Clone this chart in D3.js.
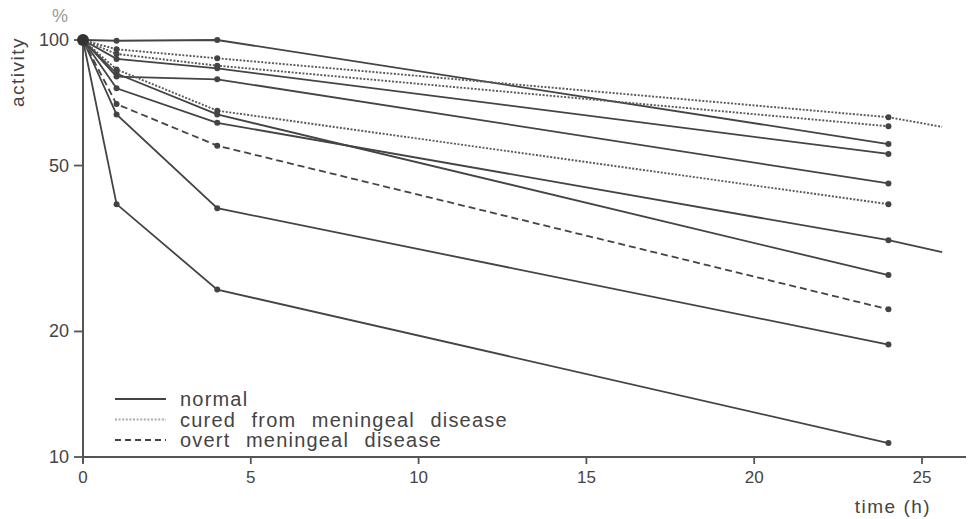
<!DOCTYPE html>
<html>
<head>
  <script src="https://d3js.org/d3.v7.min.js"></script>
  <style>
    body { margin: 0; background: #fff; }
    text { font-family: "Liberation Sans", Arial, sans-serif; fill: #444; }
  </style>
</head>
<body>
  <svg id="chart" width="969" height="519"></svg>
  <script>
    // sampling times (h) and the activity (%)
    const hours = [0, 1, 4, 24];
    const normal1 = [100, 99.6, 100, 56.3];
    const normal2 = [100, 90.1, 85.5, 53.3];
    const normal3 = [100, 81.7, 80.5, 45.3];
    const normal4 = [100, 76.6, 63.3, 33.1];
    const normal5 = [100, 83.1, 66.3, 27.3];
    const normal6 = [100, 66.3, 39.5, 18.6];
    const normal7 = [100, 40.4, 25.2, 10.8];
    const cured1 = [100, 95.0, 90.4, 65.3];
    const cured2 = [100, 92.6, 86.8, 62.1];
    const cured3 = [100, 85.0, 67.7, 40.4];
    const overt1 = [100, 70.2, 55.8, 22.6];

    // lines running on past the last sample
    const extHours = [24, 25.6];
    const normal4Ext = [33.1, 31.0];
    const cured1Ext = [65.3, 61.9];

    const xTicks = [0, 5, 10, 15, 20, 25];
    const yTicks = [10, 20, 50, 100];
    const legendLabels = ['normal', 'cured  from  meningeal  disease', 'overt  meningeal  disease'];

    const styles = {
      normal: { stroke: '#444', dash: null, width: 1.8 },
      cured: { stroke: '#5a5a5a', dash: '2 1.6', width: 1.9 },
      overt: { stroke: '#444', dash: '7 4', width: 1.8 }
    };

    const lines = [
      { v: normal1, s: 'normal' }, { v: normal2, s: 'normal' }, { v: normal3, s: 'normal' },
      { v: normal4, s: 'normal' }, { v: normal5, s: 'normal' }, { v: normal6, s: 'normal' },
      { v: normal7, s: 'normal' }, { v: cured1, s: 'cured' }, { v: cured2, s: 'cured' },
      { v: cured3, s: 'cured' }, { v: overt1, s: 'overt' }
    ];
    const extensions = [
      { v: normal4Ext, s: 'normal' }, { v: cured1Ext, s: 'cured' }
    ];

    const svg = d3.select('svg#chart');

    const xScale = d3.scaleLinear().domain([0, 25]).range([83, 922]);
    const yScale = d3.scaleLog().domain([10, 100]).range([457, 40]);

    const line = d3.line()
      .x(d => xScale(d[0]))
      .y(d => yScale(d[1]));

    // axes
    svg.append('line')
      .attr('x1', xScale(0)).attr('x2', 966)
      .attr('y1', yScale(10)).attr('y2', yScale(10))
      .attr('stroke', '#555').attr('stroke-width', 2);
    svg.append('line')
      .attr('x1', xScale(0)).attr('x2', xScale(0))
      .attr('y1', yScale(10) + 6).attr('y2', yScale(100))
      .attr('stroke', '#555').attr('stroke-width', 2);

    svg.selectAll('.xtick').data(xTicks).join('line')
      .attr('class', 'xtick')
      .attr('x1', d => xScale(d)).attr('x2', d => xScale(d))
      .attr('y1', yScale(10)).attr('y2', yScale(10) + 7)
      .attr('stroke', '#555').attr('stroke-width', 1.8);
    svg.selectAll('.xlabel').data(xTicks).join('text')
      .attr('class', 'xlabel')
      .attr('x', d => xScale(d)).attr('y', 483)
      .attr('text-anchor', 'middle')
      .style('font-size', '17px')
      .text(d => d);

    svg.selectAll('.ytick').data(yTicks).join('line')
      .attr('class', 'ytick')
      .attr('x1', xScale(0) - 9).attr('x2', d => d === 10 ? xScale(0) + 5 : xScale(0))
      .attr('y1', d => yScale(d)).attr('y2', d => yScale(d))
      .attr('stroke', '#555').attr('stroke-width', 1.8);
    svg.selectAll('.ylabel').data(yTicks).join('text')
      .attr('class', 'ylabel')
      .attr('x', 69).attr('y', d => yScale(d))
      .attr('text-anchor', 'end')
      .attr('dominant-baseline', 'central')
      .style('font-size', '18px')
      .text(d => d);

    svg.append('text')
      .attr('x', 60).attr('y', 16)
      .attr('text-anchor', 'middle')
      .attr('dominant-baseline', 'central')
      .style('font-size', '18px')
      .style('fill', '#999')
      .text('%');

    svg.append('text')
      .attr('transform', 'translate(17,72) rotate(-90)')
      .attr('text-anchor', 'middle')
      .attr('dominant-baseline', 'central')
      .style('font-size', '19px')
      .style('letter-spacing', '1.5px')
      .text('activity');

    svg.append('text')
      .attr('x', 893).attr('y', 513)
      .attr('text-anchor', 'middle')
      .style('font-size', '19px')
      .style('letter-spacing', '1.5px')
      .text('time (h)');

    // data lines
    svg.selectAll('.series').data(lines).join('path')
      .attr('class', 'series')
      .attr('fill', 'none')
      .attr('stroke', d => styles[d.s].stroke)
      .attr('stroke-width', d => styles[d.s].width)
      .attr('stroke-dasharray', d => styles[d.s].dash)
      .attr('d', d => line(d.v.map((v, i) => [hours[i], v])));

    svg.selectAll('.ext').data(extensions).join('path')
      .attr('class', 'ext')
      .attr('fill', 'none')
      .attr('stroke', d => styles[d.s].stroke)
      .attr('stroke-width', d => styles[d.s].width)
      .attr('stroke-dasharray', d => styles[d.s].dash)
      .attr('d', d => line(d.v.map((v, i) => [extHours[i], v])));

    // sample markers (not at t = 0)
    const points = [];
    lines.forEach(l => l.v.forEach((v, i) => { if (i > 0) points.push([hours[i], v]); }));
    svg.selectAll('.pt').data(points).join('circle')
      .attr('class', 'pt')
      .attr('cx', d => xScale(d[0]))
      .attr('cy', d => yScale(d[1]))
      .attr('r', 3)
      .attr('fill', '#444');

    svg.append('circle')
      .attr('cx', xScale(0)).attr('cy', yScale(100))
      .attr('r', 6).attr('fill', '#333');

    // legend
    const legendKeys = ['normal', 'cured', 'overt'];
    const legend = svg.selectAll('.leg').data(legendKeys).join('g')
      .attr('class', 'leg')
      .attr('transform', (d, i) => `translate(115,${399 + i * 20.5})`);
    legend.append('line')
      .attr('x1', 0).attr('x2', 51)
      .attr('stroke', d => d === 'cured' ? '#aaa' : styles[d].stroke)
      .attr('stroke-width', 1.8)
      .attr('stroke-dasharray', d => d === 'overt' ? '6 4' : styles[d].dash);
    legend.append('text')
      .attr('x', 65).attr('y', 0)
      .attr('dominant-baseline', 'central')
      .style('font-size', '20px')
      .style('letter-spacing', '1.2px')
      .style('word-spacing', '1px')
      .style('white-space', 'pre')
      .attr('xml:space', 'preserve')
      .text((d, i) => legendLabels[i]);
  </script>
</body>
</html>
